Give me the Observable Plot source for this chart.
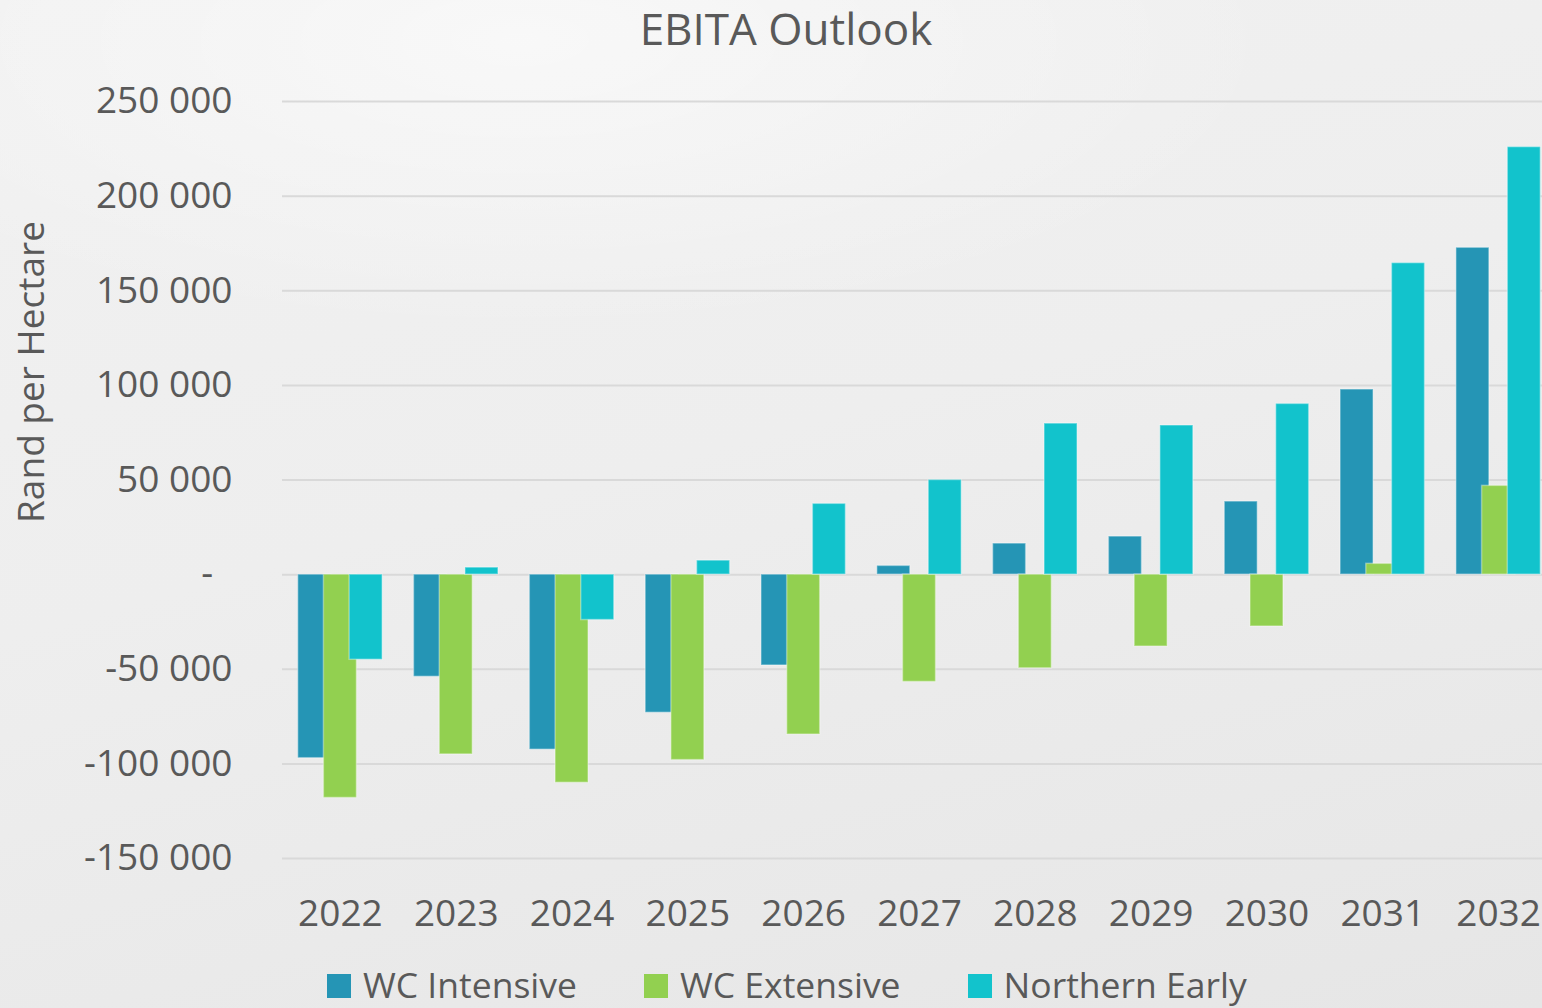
<!DOCTYPE html>
<html>
<head>
<meta charset="utf-8">
<script src="https://cdn.jsdelivr.net/npm/d3@7"></script>
<script src="https://cdn.jsdelivr.net/npm/@observablehq/plot@0.6"></script>
<style>
  html, body { margin: 0; padding: 0; width: 1542px; height: 1008px; overflow: hidden; }
  body {
    font-family: "Open Sans", sans-serif;
    color: #595959;
    background:
      radial-gradient(ellipse 1100px 420px at 520px 40px, rgba(255,255,255,0.55), rgba(255,255,255,0) 70%),
      linear-gradient(165deg, #f1f1f1 0%, #eeeeee 45%, #e6e6e6 100%);
    position: relative;
  }
  #title { height: 60px; text-align: center; font-size: 44px; line-height: 56px; padding-left: 30px; box-sizing: border-box; }
  #ylabel { position: absolute; left: 29px; top: 372px; transform: translate(-50%, -50%) rotate(-90deg); font-size: 37px; white-space: nowrap; }
  #legend { position: absolute; left: 327px; top: 960px; height: 48px; display: flex; align-items: center; font-size: 35.5px; line-height: 48px; }
  .item { display: flex; align-items: center; margin-right: 67px; }
  .sw { width: 24px; height: 24px; margin-right: 12px; margin-top: 4px; }
  #chart { position: absolute; left: 0; top: 60px; }
  #chart svg { max-width: none !important; }
</style>
</head>
<body>
<div id="title">EBITA Outlook</div>
<div id="chart"></div>
<div id="ylabel">Rand per Hectare</div>
<div id="legend"></div>
<script>
const years = [2022, 2023, 2024, 2025, 2026, 2027, 2028, 2029, 2030, 2031, 2032];
const wcIntensive   = [-97000, -54000, -92500, -73000, -48000, 4600, 16400, 20100, 38600, 97800, 172700];
const wcExtensive   = [-118000, -95000, -110000, -98000, -84500, -56700, -49500, -38000, -27400, 5700, 46900];
const northernEarly = [-45000, 3700, -24000, 7400, 37400, 50000, 79800, 78800, 90200, 164600, 225900];
const seriesNames = ["WC Intensive", "WC Extensive", "Northern Early"];
const seriesColors = ["#2595b5", "#92d050", "#12c3cc"];
const yTicks = [-150000, -100000, -50000, 0, 50000, 100000, 150000, 200000, 250000];

const seriesValues = [wcIntensive, wcExtensive, northernEarly];
const data = [];
seriesValues.forEach((vals, s) => vals.forEach((v, i) => data.push({year: years[i], series: seriesNames[s], value: v})));

const fmt = v => v === 0 ? "-\u00a0\u00a0" : (v < 0 ? "-" : "") + d3.format(",")(Math.abs(v)).replace(/,/g, " ");

// band layout: 3 overlapping bars per year
const W = 1560, ML = 282, MR = 4;
const band = (W - ML - MR) / years.length;
const barW = band * 0.285;
const step = band * 0.222;
const insets = [-1, 0, 1].map(k => {
  const left = band / 2 + k * step - barW / 2;
  return {insetLeft: left, insetRight: band - left - barW};
});

const chart = Plot.plot({
  width: W,
  height: 890,
  marginLeft: ML,
  marginRight: MR,
  marginTop: 41,
  marginBottom: 92,
  style: {fontFamily: "Open Sans, sans-serif", fontSize: "37px", color: "#595959", background: "transparent", overflow: "visible", maxWidth: "none"},
  x: {type: "band", domain: years, padding: 0, round: false},
  y: {domain: [-150000, 250000]},
  marks: [
    Plot.gridY(yTicks, {stroke: "#d9d9d9", strokeOpacity: 1, strokeWidth: 2}),
    ...seriesNames.map((name, s) =>
      Plot.barY(data.filter(d => d.series === name), {
        x: "year", y: "value", fill: seriesColors[s],
        stroke: "#ffffff", strokeOpacity: 0.35, strokeWidth: 1.5,
        ...insets[s]
      })
    ),
    Plot.axisX({tickSize: 0, tickPadding: 41, label: null, tickFormat: d => String(d)}),
    Plot.axisY(yTicks, {tickSize: 0, tickPadding: 50, label: null, tickFormat: fmt})
  ]
});
chart.style.maxWidth = "none";
document.getElementById("chart").appendChild(chart);

const legend = document.getElementById("legend");
seriesNames.forEach((name, s) => {
  const item = document.createElement("div");
  item.className = "item";
  const sw = document.createElement("div");
  sw.className = "sw";
  sw.style.background = seriesColors[s];
  const t = document.createElement("span");
  t.textContent = name;
  item.appendChild(sw); item.appendChild(t);
  legend.appendChild(item);
});
</script>
</body>
</html>
